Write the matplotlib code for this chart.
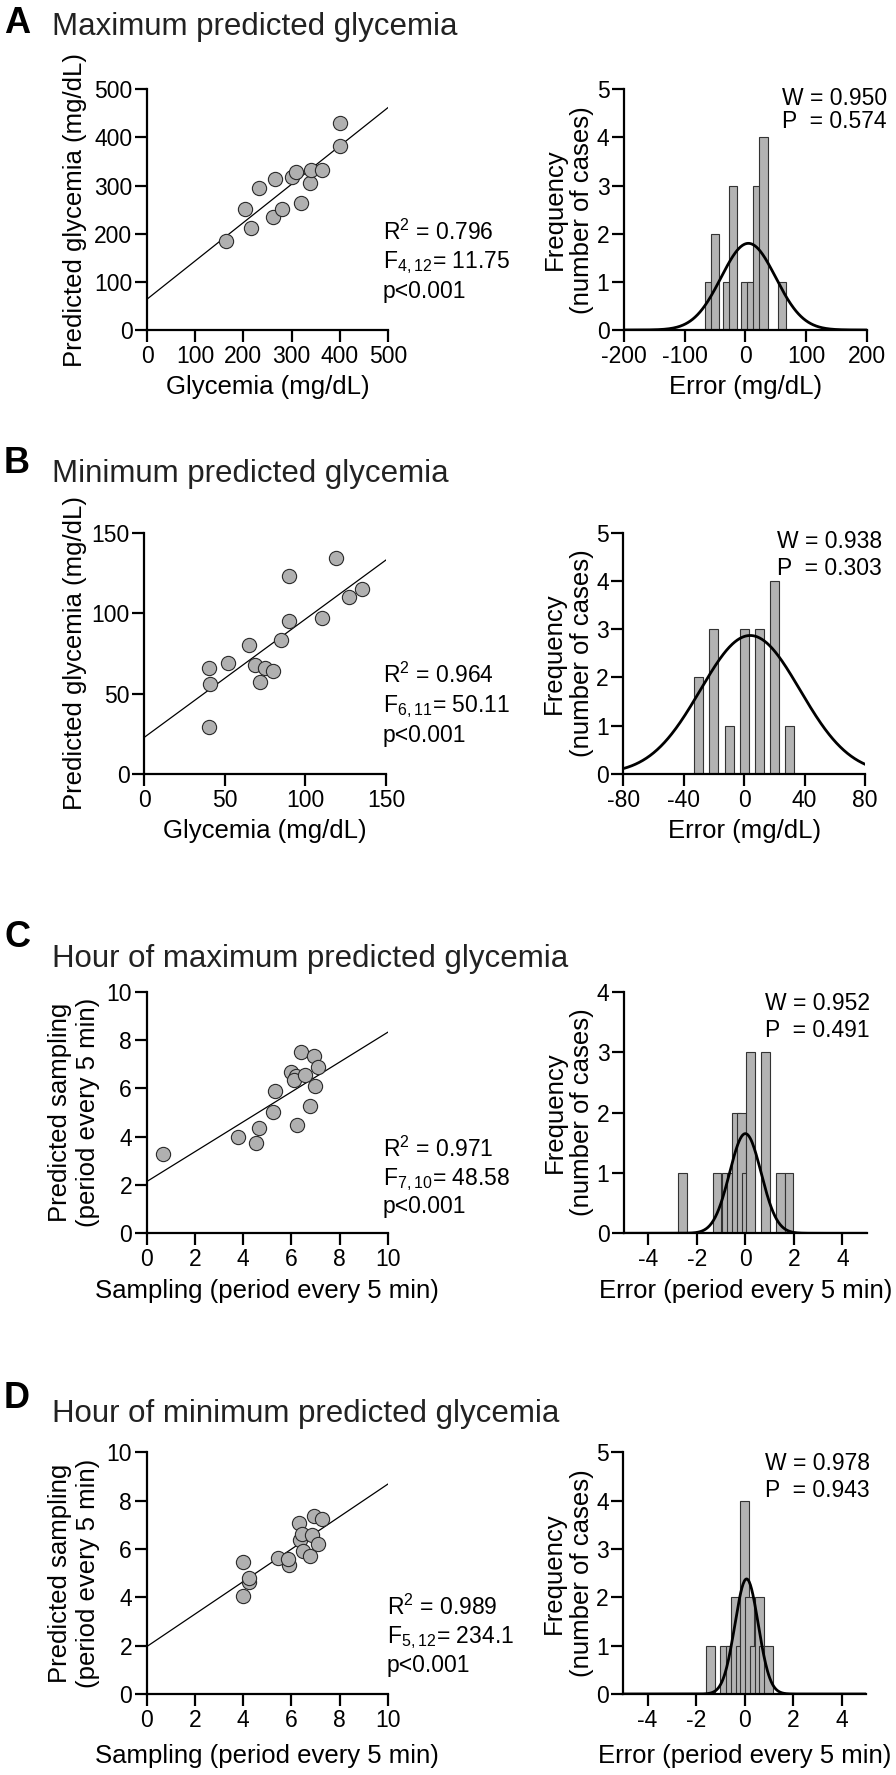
import numpy as np
import matplotlib
matplotlib.use('Agg')
import matplotlib.pyplot as plt

plt.rcParams['font.family'] = ['Liberation Sans', 'DejaVu Sans']
plt.rcParams['mathtext.default'] = 'regular'
plt.rcParams['axes.unicode_minus'] = False

W, H = 896, 1775

# A - maximum predicted glycemia
a_glyc = [163, 203, 215, 232, 262, 281, 266, 301, 310, 319, 338, 340, 364, 400, 400]
a_pred = [185, 251, 211, 296, 234, 251, 314, 317, 328, 263, 306, 332, 332, 383, 429]
a_fit = [64, 0.796]          # intercept, slope
a_err = [-60, -50, -30, -20, 0, 10, 20, 30, 60]
a_cnt = [1, 2, 1, 3, 1, 1, 3, 4, 1]
a_gauss = [5, 45, 1.8]       # mean, sd, peak

# B - minimum predicted glycemia
b_glyc = [40, 41, 40, 52, 65, 69, 72, 75, 80, 85, 90, 90, 110, 119, 127, 135]
b_pred = [29, 56, 66, 69, 80, 68, 57, 66, 64, 83, 95, 123, 97, 134, 110, 115]
b_fit = [22.8, 0.735]
b_err = [-30, -20, -10, 0, 10, 20, 30]
b_cnt = [2, 3, 1, 3, 3, 4, 1]
b_gauss = [4, 33, 2.87]

# C - hour of maximum predicted glycemia
c_samp = [0.68, 3.78, 4.54, 4.67, 5.26, 5.34, 6.22, 6.0, 6.2, 6.1, 6.4, 6.58, 6.93, 7.1, 7.0, 6.76]
c_pred = [3.28, 4.0, 3.72, 4.37, 5.03, 5.89, 4.48, 6.69, 6.51, 6.34, 7.49, 6.55, 7.34, 6.87, 6.11, 5.28]
c_fit = [2.14, 0.618]
c_err = [-2.58, -1.17, -0.79, -0.56, -0.38, -0.17, 0.03, 0.21, 0.82, 1.44, 1.8]
c_cnt = [1, 1, 1, 1, 2, 2, 1, 3, 3, 1, 1]
c_gauss = [0.0, 0.65, 1.65]

# D - hour of minimum predicted glycemia
d_samp = [4.01, 4.01, 4.26, 4.26, 5.46, 5.92, 5.85, 6.32, 6.36, 6.46, 6.5, 6.87, 6.79, 6.96, 7.26, 7.1]
d_pred = [4.06, 5.45, 4.62, 4.81, 5.64, 5.34, 5.59, 7.06, 6.37, 6.61, 5.92, 6.58, 5.71, 7.38, 7.24, 6.19]
d_fit = [1.96, 0.672]
d_err = [-1.40, -0.81, -0.58, -0.39, -0.19, 0.0, 0.21, 0.42, 0.60, 0.78, 0.97]
d_cnt = [1, 1, 1, 2, 1, 4, 2, 1, 2, 1, 1]
d_gauss = [0.08, 0.48, 2.38]


def rect(l, r, t, b):
    return [l / W, 1 - b / H, (r - l) / W, (b - t) / H]


def style(ax):
    for s in ['top', 'right']:
        ax.spines[s].set_visible(False)
    for s in ['left', 'bottom']:
        ax.spines[s].set_linewidth(1.6)
    ax.tick_params(direction='out', length=8.5, width=1.6, labelsize=16.5, pad=2)


def ftext(x, y, s, **kw):
    fig.text(x / W, 1 - y / H, s, va='baseline', **kw)


fig = plt.figure(figsize=(W / 100, H / 100), dpi=100)

panels = [
    dict(letter='A', title='Maximum predicted glycemia', ly=33, ty=35,
         x=a_glyc, y=a_pred, fit=a_fit, lim=500, ticks=np.arange(0, 501, 100),
         srect=(147, 388, 89.3, 330), hrect=(624, 866.7, 89.3, 330),
         xlab='Glycemia (mg/dL)', ylab='Predicted glycemia (mg/dL)', ylx=-0.249,
         stats=['R$^{2}$ = 0.796', 'F$_{4,12}$= 11.75', 'p<0.001'], sx=383, sy=[240, 268.3, 298],
         err=a_err, cnt=a_cnt, bw=13.7, g=a_gauss, hx=(-200, 200), hxt=[-200, -100, 0, 100, 200], hy=5,
         hxlab='Error (mg/dL)', w=['W = 0.950', 'P  = 0.574'], wx=782, wy=[105, 128], xly=-0.185),
    dict(letter='B', title='Minimum predicted glycemia', ly=473, ty=481.7,
         x=b_glyc, y=b_pred, fit=b_fit, lim=150, ticks=[0, 50, 100, 150],
         srect=(144.3, 386, 532.7, 774), hrect=(623.3, 865, 532.7, 774),
         xlab='Glycemia (mg/dL)', ylab='Predicted glycemia (mg/dL)', ylx=-0.237,
         stats=['R$^{2}$ = 0.964', 'F$_{6,11}$= 50.11', 'p<0.001'], sx=383, sy=[683.3, 711.7, 741.7],
         err=b_err, cnt=b_cnt, bw=6, g=b_gauss, hx=(-80, 80), hxt=[-80, -40, 0, 40, 80], hy=5,
         hxlab='Error (mg/dL)', w=['W = 0.938', 'P  = 0.303'], wx=776.7, wy=[548.3, 575], xly=-0.185),
    dict(letter='C', title='Hour of maximum predicted glycemia', ly=947, ty=966.7,
         x=c_samp, y=c_pred, fit=c_fit, lim=10, ticks=np.arange(0, 11, 2),
         srect=(146.7, 387.7, 991.7, 1233.3), hrect=(624, 866.7, 991.7, 1233.3),
         xlab='Sampling (period every 5 min)', ylab='Predicted sampling\n(period every 5 min)', ylx=-0.194,
         stats=['R$^{2}$ = 0.971', 'F$_{7,10}$= 48.58', 'p<0.001'], sx=383, sy=[1156.7, 1185, 1213],
         err=c_err, cnt=c_cnt, bw=0.365, g=c_gauss, hx=(-5, 5), hxt=[-4, -2, 0, 2, 4], hy=4,
         hxlab='Error (period every 5 min)', w=['W = 0.952', 'P  = 0.491'], wx=765, wy=[1010, 1036.7], xly=-0.19),
    dict(letter='D', title='Hour of minimum predicted glycemia', ly=1408, ty=1421.7,
         x=d_samp, y=d_pred, fit=d_fit, lim=10, ticks=np.arange(0, 11, 2),
         srect=(146.7, 387.7, 1452.3, 1694), hrect=(623.3, 866, 1452.3, 1694),
         xlab='Sampling (period every 5 min)', ylab='Predicted sampling\n(period every 5 min)', ylx=-0.194,
         stats=['R$^{2}$ = 0.989', 'F$_{5,12}$= 234.1', 'p<0.001'], sx=386.7, sy=[1615, 1643.3, 1671.7],
         err=d_err, cnt=d_cnt, bw=0.373, g=d_gauss, hx=(-5, 5), hxt=[-4, -2, 0, 2, 4], hy=5,
         hxlab='Error (period every 5 min)', w=['W = 0.978', 'P  = 0.943'], wx=765, wy=[1470, 1496.7], xly=-0.205),
]

for p in panels:
    ftext(4, p['ly'], p['letter'], fontsize=26, fontweight='bold')
    ftext(52, p['ty'], p['title'], fontsize=22.5, color='#222222')

    # regression scatter
    ax = fig.add_axes(rect(*p['srect']))
    style(ax)
    lx = np.array([0, p['lim']])
    ax.plot(lx, p['fit'][0] + p['fit'][1] * lx, color='black', lw=0.9, zorder=2)
    ax.scatter(p['x'], p['y'], s=105, c='#b0b0b0', edgecolors='#2a2a2a', linewidths=0.8, zorder=3)
    ax.set_xlim(0, p['lim'])
    ax.set_ylim(0, p['lim'])
    ax.set_xticks(p['ticks'])
    ax.set_yticks(p['ticks'])
    ax.set_xlabel(p['xlab'], fontsize=18.5)
    ax.set_ylabel(p['ylab'], fontsize=18.5)
    ax.xaxis.set_label_coords(0.5, p['xly'])
    ax.yaxis.set_label_coords(p['ylx'], 0.5)
    for s, yy in zip(p['stats'], p['sy']):
        ftext(p['sx'], yy, s, fontsize=16.5)

    # error histogram
    hx = fig.add_axes(rect(*p['hrect']))
    style(hx)
    hx.bar(p['err'], p['cnt'], width=p['bw'], color='#b3b3b3', edgecolor='#333333', linewidth=0.8)
    gx = np.linspace(p['hx'][0], p['hx'][1], 400)
    m, sd, pk = p['g']
    hx.plot(gx, pk * np.exp(-(gx - m) ** 2 / (2 * sd ** 2)), color='black', lw=2, zorder=3)
    hx.set_xlim(*p['hx'])
    hx.set_ylim(0, p['hy'])
    hx.set_xticks(p['hxt'])
    hx.set_yticks(range(p['hy'] + 1))
    hx.set_xlabel(p['hxlab'], fontsize=18.5)
    hx.set_ylabel('Frequency\n(number of cases)', fontsize=18.5)
    hx.xaxis.set_label_coords(0.5, p['xly'])
    hx.yaxis.set_label_coords(-0.122, 0.5)
    for s, yy in zip(p['w'], p['wy']):
        ftext(p['wx'], yy, s, fontsize=16.5)

fig.savefig('out.png', dpi=100)
